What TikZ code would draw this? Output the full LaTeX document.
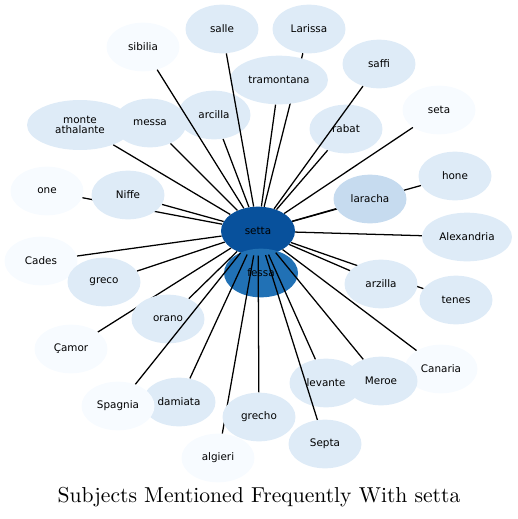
\documentclass[tikz,border=0pt]{standalone}
\usepackage{fontspec}
\newfontfamily\labelfont{DejaVu Sans}
\usepackage{tikz}
\usetikzlibrary{shapes.geometric}
\usepackage{xcolor}
\definecolor{hubdark}{HTML}{08519C}
\definecolor{hubmid}{HTML}{2171B5}
\definecolor{leafmid}{HTML}{C6DBEF}
\definecolor{leaflight}{HTML}{DEEBF7}
\definecolor{leafpale}{HTML}{F7FBFF}
\pgfdeclarelayer{hubs}
\pgfdeclarelayer{links}
\pgfdeclarelayer{over}
\pgfsetlayers{hubs,links,main,over}

\begin{document}
\begin{tikzpicture}[x=0.75pt,y=-0.75pt,line cap=round,
  leaf/.style={ellipse,inner sep=0pt,minimum width=54.75pt,minimum height=36.5pt,
    font=\labelfont\fontsize{7.8}{9}\selectfont},
  pale/.style={leaf,fill=leafpale},
  light/.style={leaf,fill=leaflight},
  link/.style={line width=0.95pt}]
\useasboundingbox (0,0) rectangle (518,519);
\begin{pgfonlayer}{hubs}
\node[leaf,fill=hubdark,minimum width=55.5pt] (setta) at (258,231) {setta};
\node[leaf,fill=hubmid,minimum width=55.5pt] (fessa) at (261,273) {fessa};
\end{pgfonlayer}
\node[pale] (sibilia) at (143,47) {sibilia};
\node[light] (salle) at (222,29) {salle};
\node[light] (larissa) at (309,29) {Larissa};
\node[light,minimum width=73.5pt] (tramontana) at (279,80) {tramontana};
\node[light] (saffi) at (379,64) {saffi};
\node[pale] (seta) at (439,110) {seta};
\node[light] (messa) at (150,123) {messa};
\node[light,minimum width=79.5pt,minimum height=37.5pt,align=center] (monte) at (80,125) {monte\\[-2pt]athalante};
\node[light] (arcilla) at (214,115) {arcilla};
\node[light] (rabat) at (346,129) {rabat};
\node[light] (hone) at (455,176) {hone};
\node[pale] (one) at (47,191) {one};
\node[light] (niffe) at (128,195) {Niffe};
\node[leaf,fill=leafmid] (laracha) at (370,199) {laracha};
\node[light,minimum width=67.5pt] (alexandria) at (467,237) {Alexandria};
\node[pale] (cades) at (41,261) {Cades};
\node[light] (greco) at (104,282) {greco};
\node[light] (orano) at (168,319) {orano};
\node[light] (tenes) at (456,300) {tenes};
\node[light] (arzilla) at (381,284) {arzilla};
\node[pale] (camor) at (71,349) {Çamor};
\node[light] (damiata) at (179,402) {damiata};
\node[pale] (spagnia) at (118,406) {Spagnia};
\node[light] (grecho) at (259,417) {grecho};
\node[pale] (algieri) at (218,458) {algieri};
\node[pale] (canaria) at (441,369) {Canaria};
\node[light] (levante) at (326,383) {levante};
\node[light] (meroe) at (381,381) {Meroe};
\node[light] (septa) at (325,444) {Septa};
\begin{pgfonlayer}{links}
\draw[link] (setta) -- (larissa);
\draw[link] (setta) -- (tramontana);
\draw[link] (setta) -- (seta);
\draw[link] (setta) -- (monte);
\draw[link] (setta) -- (messa);
\draw[link] (setta) -- (arcilla);
\draw[link] (setta) -- (rabat);
\draw[link] (setta) -- (hone);
\draw[link] (setta) -- (one);
\draw[link] (setta) -- (niffe);
\draw[link] (setta) -- (laracha);
\draw[link] (setta) -- (alexandria);
\draw[link] (setta) -- (cades);
\draw[link] (setta) -- (greco);
\draw[link] (setta) -- (orano);
\draw[link] (setta) -- (arzilla);
\draw[link] (setta) -- (tenes);
\draw[link] (setta) -- (camor);
\draw[link] (setta) -- (damiata);
\draw[link] (setta) -- (grecho);
\draw[link] (setta) -- (algieri);
\draw[link] (setta) -- (levante);
\draw[link] (setta) -- (meroe);
\draw[link] (setta) -- (canaria);
\end{pgfonlayer}
% these run over other nodes
\begin{pgfonlayer}{over}
\draw[link] (setta) -- (sibilia);
\draw[link] (setta) -- (salle);
\draw[link] (setta) -- (saffi);
\draw[link] (setta) -- (spagnia);
\draw[link] (setta) -- (septa);
\end{pgfonlayer}
\node[font=\fontsize{10}{12}\selectfont,scale=1.62] (title) at (259,497) {Subjects Mentioned Frequently With setta};
\end{tikzpicture}
\end{document}
